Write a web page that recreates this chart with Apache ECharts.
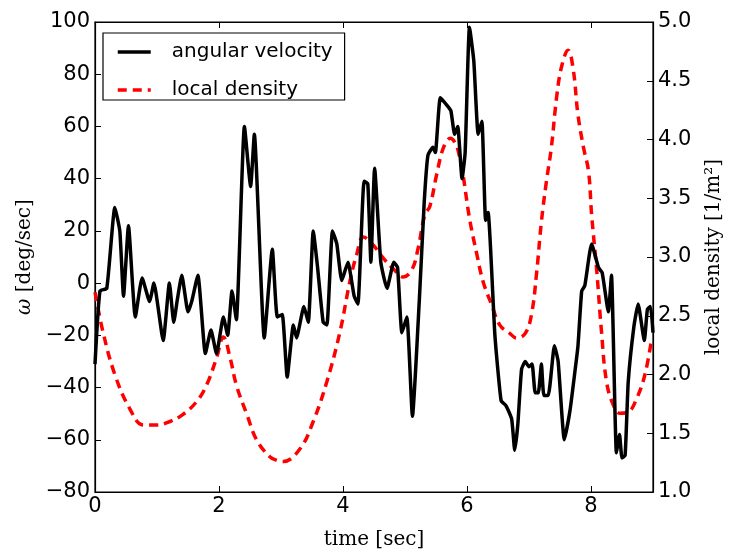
<!DOCTYPE html>
<html><head><meta charset="utf-8">
<script src="https://cdn.jsdelivr.net/npm/echarts@6/dist/echarts.min.js"></script>
<style>html,body{margin:0;padding:0;background:#fff}#c{width:731px;height:551px}</style>
</head><body><div id="c"></div>
<script>
// angular velocity (deg/sec) vs time
var omegaT = [0,0.08,0.19,0.32,0.40,0.46,0.54,0.65,0.76,0.88,0.95,1.10,1.20,1.27,1.33,1.40,1.50,1.56,1.66,1.78,1.87,1.96,2.07,2.14,2.21,2.28,2.41,2.51,2.57,2.73,2.86,2.94,3.02,3.10,3.20,3.25,3.37,3.44,3.52,3.59,3.68,3.74,3.83,3.90,3.98,4.08,4.18,4.24,4.34,4.40,4.45,4.51,4.61,4.71,4.82,4.88,4.95,5.03,5.12,5.23,5.31,5.37,5.45,5.49,5.57,5.68,5.74,5.80,5.85,5.92,5.97,6.04,6.11,6.18,6.24,6.30,6.34,6.45,6.55,6.63,6.72,6.77,6.82,6.88,6.94,7.00,7.05,7.10,7.15,7.20,7.24,7.31,7.41,7.47,7.57,7.66,7.74,7.79,7.85,7.90,8.01,8.12,8.18,8.28,8.33,8.41,8.46,8.50,8.55,8.60,8.69,8.76,8.86,8.91,8.96,9.00];
var omegaV = [-31,-3,-2,29,20,-5,22,-13,2,-7,0,-22,0,-15,-6,3,-11,-7,3,-27,-18,-27,-13,-20,-3,-14,60,37,57,-21,13,-13,-12,-36,-16,-21,-9,-15,20,6,-15,-16,20,15,1,8,-5,-8,39,38,8,44,8,-2,8,6,-19,-13,-51,-7,31,49,52,50,71,68,66,57,60,40,50,98,85,57,62,24,27,-20,-45,-47,-52,-64,-54,-33,-30,-32,-31,-42,-42,-31,-43,-43,-24,-30,-60,-49,-34,-24,-3,-1,15,6,4,-11,3,-65,-58,-67,-66,-38,-17,-8,-22,-10,-9,-19];
// local density (1/m^2) vs time
var densT = [0,0.13,0.32,0.56,0.78,0.99,1.21,1.42,1.64,1.80,1.96,2.07,2.18,2.28,2.45,2.61,2.82,2.93,3.04,3.31,3.52,3.74,3.95,4.11,4.22,4.33,4.49,4.65,4.81,4.97,5.11,5.21,5.32,5.40,5.51,5.62,5.73,5.86,6.05,6.16,6.26,6.40,6.53,6.69,6.80,6.94,7.04,7.12,7.20,7.28,7.36,7.45,7.53,7.63,7.71,7.79,7.88,7.96,8.01,8.09,8.17,8.25,8.36,8.47,8.60,8.74,8.87,8.98];
var densV = [2.70,2.36,2.00,1.71,1.57,1.57,1.60,1.66,1.77,1.91,2.14,2.32,2.14,1.91,1.66,1.44,1.30,1.27,1.26,1.37,1.60,1.94,2.36,2.79,3.02,3.17,3.10,2.99,2.90,2.83,2.89,3.07,3.36,3.43,3.70,3.93,4.01,3.90,3.30,3.02,2.79,2.59,2.42,2.35,2.31,2.35,2.51,2.85,3.30,3.64,3.93,4.38,4.63,4.76,4.61,4.21,3.93,3.73,3.36,2.90,2.36,1.94,1.74,1.67,1.68,1.80,2.00,2.31];
var xTicks = [0,2,4,6,8];

var omegaData = omegaT.map(function(t,i){return [t, omegaV[i]];});
var densData = densT.map(function(t,i){return [t, densV[i]];});
var tickFont = {fontFamily:'DejaVu Sans', fontSize:21, color:'#000'};
var serif = 'DejaVu Serif';

var chart = echarts.init(document.getElementById('c'), null, {renderer:'canvas'});
chart.setOption({
  animation:false,
  backgroundColor:'#fff',
  grid:{left:95, right:78, top:22, bottom:59, containLabel:false, outerBoundsMode:'none', show:true, borderColor:'#000', borderWidth:1.2, backgroundColor:'transparent'},
  legend:{
    left:103, top:33, orient:'vertical', itemWidth:33, itemHeight:20, itemGap:18,
    padding:[9,12,0,13], borderColor:'#000', borderWidth:1.2, backgroundColor:'#fff',
    itemStyle:{opacity:0},
    lineStyle:{width:3.5},
    textStyle:{fontFamily:'DejaVu Sans', fontSize:20, lineHeight:20, color:'#000', padding:[0,0,0,16]},
    data:['angular velocity','local density']
  },
  xAxis:[{
    type:'value', min:0, max:9, interval:2, position:'bottom',
    name:'time [sec]', nameLocation:'middle', nameGap:38,
    nameTextStyle:{fontFamily:serif, fontSize:20, color:'#000'},
    axisLine:{show:true, onZero:false, lineStyle:{color:'#000', width:1.2}},
    axisTick:{show:true, inside:true, length:6, lineStyle:{color:'#000'}},
    axisLabel:Object.assign({margin:4, showMaxLabel:false, formatter:function(v){return xTicks.indexOf(v)>=0? String(v):'';}}, tickFont),
    splitLine:{show:false}
  },{
    type:'value', min:0, max:9, interval:2, position:'top',
    axisLine:{show:true, onZero:false, lineStyle:{color:'#000', width:1.2}},
    axisTick:{show:true, inside:true, length:6, lineStyle:{color:'#000'}},
    axisLabel:{show:false}, splitLine:{show:false}
  }],
  yAxis:[{
    type:'value', min:-80, max:100, interval:20, position:'left',
    name:'{i|ω} [deg/sec]', nameLocation:'middle', nameGap:55, nameRotate:90,
    nameTextStyle:{fontFamily:serif, fontSize:20, color:'#000', rich:{i:{fontFamily:serif, fontStyle:'italic', fontSize:20}}},
    axisLine:{show:true, onZero:false, lineStyle:{color:'#000', width:1.2}},
    axisTick:{show:true, inside:true, length:6, lineStyle:{color:'#000'}},
    axisLabel:Object.assign({margin:5, formatter:function(v){return v<0? '\u2212'+Math.abs(v):String(v);}}, tickFont),
    splitLine:{show:false}
  },{
    type:'value', min:1, max:5, interval:0.5, position:'right',
    name:'local density [1/m\u00b2]', nameLocation:'middle', nameGap:51, nameRotate:90,
    nameTextStyle:{fontFamily:serif, fontSize:20, color:'#000'},
    axisLine:{show:true, onZero:false, lineStyle:{color:'#000', width:1.2}},
    axisTick:{show:true, inside:true, length:6, lineStyle:{color:'#000'}},
    axisLabel:Object.assign({margin:5, formatter:function(v){return v.toFixed(1);}}, tickFont),
    splitLine:{show:false}
  }],
  series:[{
    name:'angular velocity', type:'line', xAxisIndex:0, yAxisIndex:0, data:omegaData,
    showSymbol:false, symbol:'none', smooth:0.15, z:3,
    lineStyle:{color:'#000', width:3.5}, itemStyle:{color:'#000'}
  },{
    name:'local density', type:'line', xAxisIndex:0, yAxisIndex:1, data:densData,
    showSymbol:false, symbol:'none', smooth:0.4, z:2,
    lineStyle:{color:'#ff0000', width:3.5, type:[9,6]}, itemStyle:{color:'#ff0000'}
  }]
});
</script></body></html>
